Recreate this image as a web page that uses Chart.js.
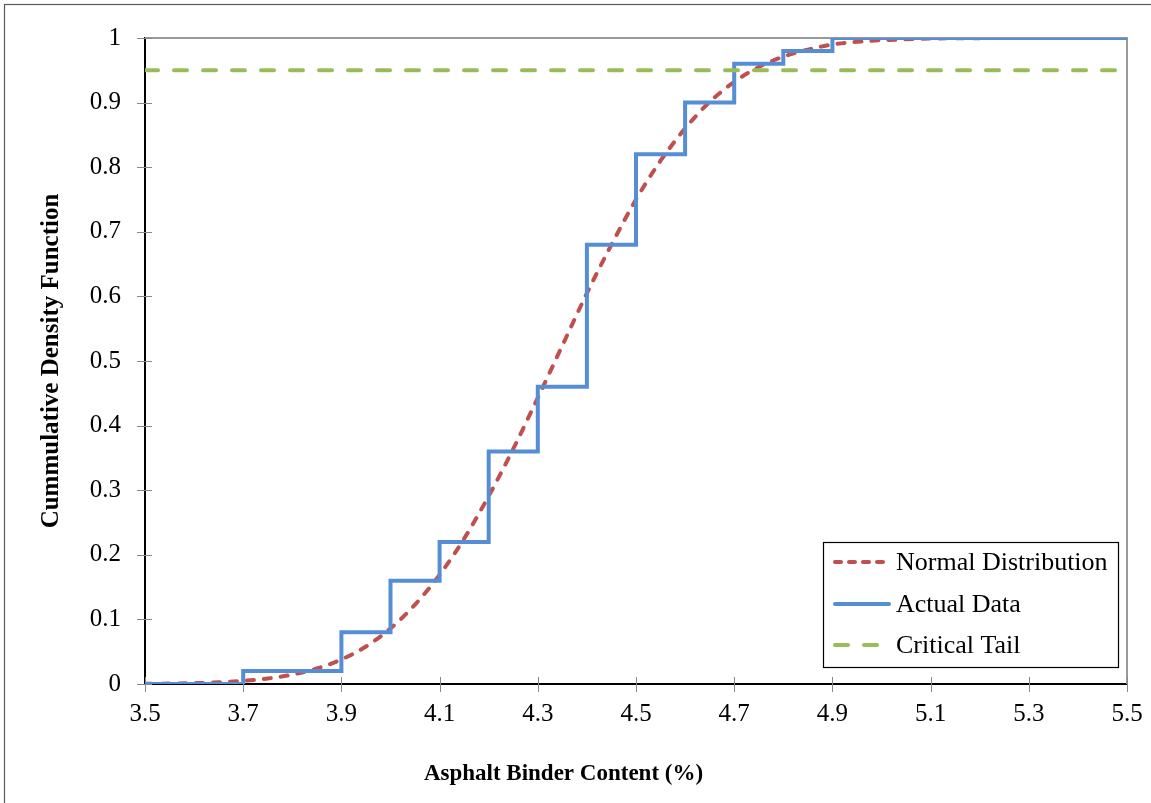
<!DOCTYPE html>
<html lang="en">
<head>
    <meta charset="UTF-8">
    <title>Asphalt Binder Content CDF</title>
    <script src="https://cdn.jsdelivr.net/npm/chart.js"></script>
    <style>
        body {
            margin: 0;
            background: white;
        }
        #cdf-chart {
            display: block;
        }
    </style>
</head>
<body>
    <canvas id="cdf-chart" width="1151" height="803"></canvas>

    <script>
        // values
        const normalX = [3.5, 3.55, 3.6, 3.65, 3.7, 3.75, 3.8, 3.85, 3.9, 3.95, 4.0, 4.05, 4.1, 4.15, 4.2, 4.25,
            4.3, 4.35, 4.4, 4.45, 4.5, 4.55, 4.6, 4.65, 4.7, 4.75, 4.8, 4.85, 4.9, 4.95, 5.0, 5.05, 5.1, 5.15, 5.2];
        const normalY = [0.0003, 0.0007, 0.0013, 0.0026, 0.0048, 0.0085, 0.0145, 0.024, 0.038, 0.058, 0.086, 0.123,
            0.169, 0.225, 0.291, 0.364, 0.443, 0.524, 0.605, 0.68, 0.75, 0.81, 0.86, 0.901, 0.932, 0.955, 0.971,
            0.982, 0.99, 0.994, 0.9966, 0.998, 0.9991, 0.9996, 0.9998];

        const actualX = [3.5, 3.7, 3.9, 4.0, 4.1, 4.2, 4.3, 4.4, 4.5, 4.6, 4.7, 4.8, 4.9, 5.5];
        const actualY = [0, 0.02, 0.08, 0.16, 0.22, 0.36, 0.46, 0.68, 0.82, 0.90, 0.96, 0.98, 1.0, 1.0];

        const criticalX = [3.5, 5.5];
        const criticalY = [0.95, 0.95];

        const xTicks = [3.5, 3.7, 3.9, 4.1, 4.3, 4.5, 4.7, 4.9, 5.1, 5.3, 5.5];
        const yTicks = [0, 0.1, 0.2, 0.3, 0.4, 0.5, 0.6, 0.7, 0.8, 0.9, 1];

        const serif = '"Liberation Serif", "Times New Roman", serif';

        function points(xs, ys) {
            return xs.map((x, i) => ({ x: x, y: ys[i] }));
        }

        // white page, outer frame, gray plot border and crossing tick marks
        const frame = {
            id: 'frame',
            beforeDraw(chart) {
                const ctx = chart.ctx;
                ctx.save();
                ctx.fillStyle = 'white';
                ctx.fillRect(0, 0, chart.width, chart.height);
                ctx.strokeStyle = '#5a5a5a';
                ctx.lineWidth = 1.2;
                ctx.strokeRect(4.5, 4.5, chart.width + 10, chart.height + 10);
                ctx.restore();
            },
            beforeDatasetsDraw(chart) {
                const { ctx, chartArea: a, scales: { x, y } } = chart;
                ctx.save();
                ctx.strokeStyle = '#999';
                ctx.lineWidth = 2;
                ctx.beginPath();
                ctx.moveTo(a.left, a.top);
                ctx.lineTo(a.right, a.top);
                ctx.lineTo(a.right, a.bottom);
                ctx.stroke();

                ctx.strokeStyle = '#888';
                ctx.lineWidth = 1;
                ctx.beginPath();
                yTicks.forEach(v => {
                    const py = Math.round(y.getPixelForValue(v)) + 0.5;
                    ctx.moveTo(a.left - 8, py);
                    ctx.lineTo(a.left + 7, py);
                });
                xTicks.forEach(v => {
                    const px = Math.round(x.getPixelForValue(v)) + 0.5;
                    ctx.moveTo(px, a.bottom - 7);
                    ctx.lineTo(px, a.bottom + 8);
                });
                ctx.stroke();
                ctx.restore();
            }
        };

        // legend box inside the plot, bottom right
        const boxLegend = {
            id: 'boxLegend',
            afterDatasetsDraw(chart) {
                const ctx = chart.ctx;
                const bx = 823.5, by = 542.5, bw = 295, bh = 125;
                ctx.save();
                ctx.fillStyle = 'white';
                ctx.fillRect(bx, by, bw, bh);
                ctx.strokeStyle = '#000';
                ctx.lineWidth = 1.2;
                ctx.strokeRect(bx, by, bw, bh);

                const rows = [562, 604, 645];
                chart.data.datasets.forEach((ds, i) => {
                    const ry = rows[i];
                    ctx.strokeStyle = ds.borderColor;
                    ctx.lineWidth = ds.borderWidth;
                    ctx.lineCap = 'round';
                    ctx.setLineDash(ds.legendDash || []);
                    ctx.beginPath();
                    ctx.moveTo(835, ry);
                    ctx.lineTo(889, ry);
                    ctx.stroke();
                    ctx.setLineDash([]);
                    ctx.fillStyle = '#000';
                    ctx.font = '26px ' + serif;
                    ctx.textBaseline = 'middle';
                    ctx.fillText(ds.label, 896, ry + 1);
                });
                ctx.restore();
            }
        };

        const ctx = document.getElementById('cdf-chart').getContext('2d');
        window.chart = new Chart(ctx, {
            type: 'line',
            data: {
                datasets: [{
                    label: 'Normal Distribution',
                    data: points(normalX, normalY),
                    borderColor: '#C0504D',
                    borderWidth: 4,
                    borderDash: [7, 10],
                    legendDash: [6, 8],
                    borderCapStyle: 'round',
                    cubicInterpolationMode: 'monotone',
                    pointRadius: 0,
                    fill: false,
                    order: 3
                }, {
                    label: 'Actual Data',
                    data: points(actualX, actualY),
                    borderColor: '#558ED5',
                    borderWidth: 4,
                    stepped: 'before',
                    pointRadius: 0,
                    fill: false,
                    order: 2
                }, {
                    label: 'Critical Tail',
                    data: points(criticalX, criticalY),
                    borderColor: '#9BBB59',
                    borderWidth: 4,
                    borderDash: [13, 16],
                    legendDash: [13, 16],
                    borderCapStyle: 'round',
                    pointRadius: 0,
                    fill: false,
                    order: 1
                }]
            },
            options: {
                responsive: false,
                devicePixelRatio: 1,
                animation: false,
                layout: {
                    padding: { top: 38, right: 24, bottom: 0, left: 0 }
                },
                plugins: {
                    legend: { display: false },
                    tooltip: { enabled: false },
                    title: {
                        display: true,
                        position: 'bottom',
                        text: 'Asphalt Binder Content (%)',
                        color: '#000',
                        font: { family: serif, size: 23, weight: 'bold', lineHeight: 1.2 },
                        padding: { top: 0, bottom: 15 }
                    }
                },
                scales: {
                    x: {
                        type: 'linear',
                        min: 3.5,
                        max: 5.5,
                        afterBuildTicks: s => { s.ticks = xTicks.map(v => ({ value: v })); },
                        afterFit: s => {
                            s.height = 119 - 42.6;
                            s.paddingLeft = 0;
                            s.paddingRight = 0;
                        },
                        grid: { display: false, drawTicks: false },
                        border: { display: true, color: '#000', width: 2 },
                        ticks: {
                            color: '#000',
                            padding: 15,
                            maxRotation: 0,
                            font: { family: serif, size: 25 },
                            callback: v => v.toFixed(1)
                        }
                    },
                    y: {
                        type: 'linear',
                        min: 0,
                        max: 1,
                        afterBuildTicks: s => { s.ticks = yTicks.map(v => ({ value: v })); },
                        afterFit: s => {
                            s.width = 145;
                            s.paddingTop = 0;
                            s.paddingBottom = 0;
                        },
                        grid: { display: false, drawTicks: false },
                        border: { display: true, color: '#000', width: 2 },
                        ticks: {
                            color: '#000',
                            padding: 24,
                            font: { family: serif, size: 25 },
                            callback: v => String(Math.round(v * 10) / 10)
                        },
                        title: {
                            display: true,
                            text: 'Cummulative Density Function',
                            color: '#000',
                            font: { family: serif, size: 25, weight: 'bold', lineHeight: 1.2 },
                            padding: { top: 37, bottom: 0 }
                        }
                    }
                }
            },
            plugins: [frame, boxLegend]
        });
    </script>
</body>
</html>
